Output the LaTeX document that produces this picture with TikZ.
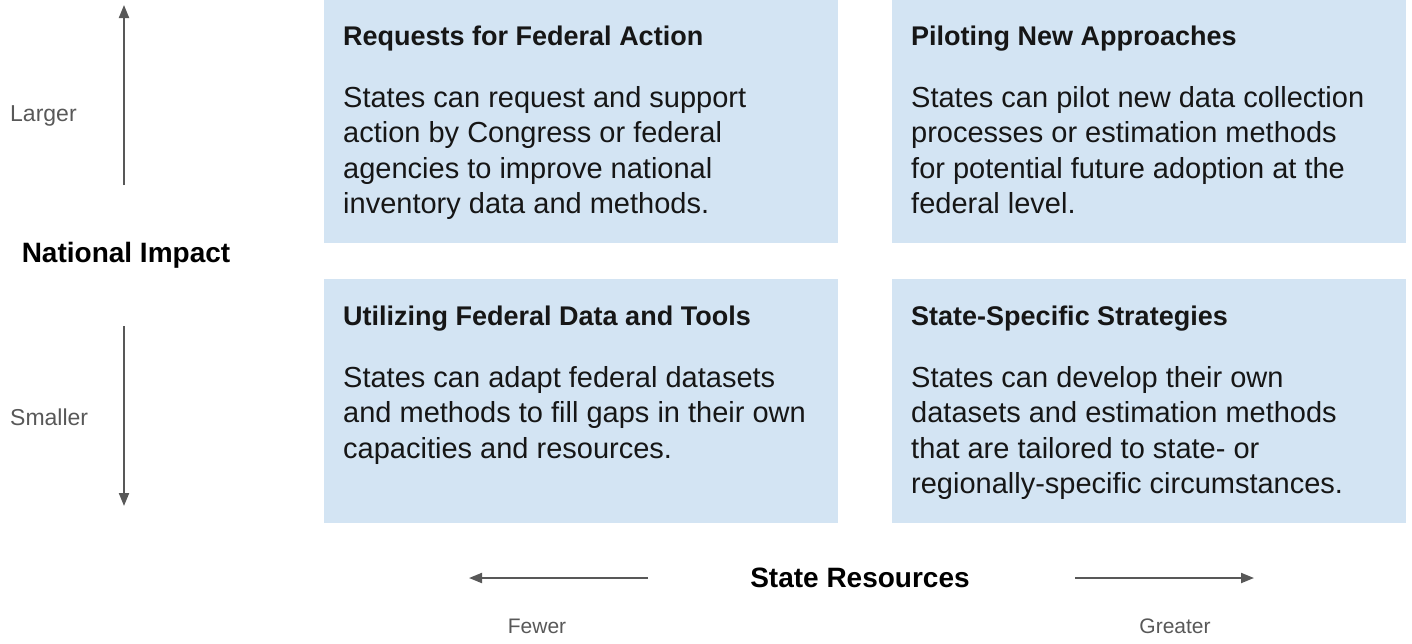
\documentclass[tikz,border=0pt]{standalone}
\usepackage{fontspec}
\setmainfont{Liberation Sans}
\usepackage{xcolor}
\usepackage{tikz}
\usetikzlibrary{arrows.meta,positioning,calc}
\definecolor{ink}{HTML}{161616}
\definecolor{axisgray}{HTML}{585858}
\definecolor{paleblue}{HTML}{D3E4F3}
\tikzset{
  quad/.style={rectangle, fill=paleblue, draw=none, anchor=north west, minimum width=514pt, minimum height=243pt, inner sep=0pt},
  quadtitle/.style={anchor=base west, inner sep=0pt, text=ink, font=\fontsize{27}{32}\selectfont\bfseries},
  quadbody/.style={anchor=north west, inner sep=0pt, text=ink, align=left, font=\fontsize{29}{35.5}\selectfont},
  axislabel/.style={inner sep=0pt, text=axisgray, font=\fontsize{21}{25}\selectfont},
  axistitle/.style={inner sep=0pt, text=black, font=\fontsize{28}{33}\selectfont\bfseries},
  axisarrow/.style={-{Triangle[length=13pt,width=10pt]}, draw=axisgray, line width=2pt}
}

\begin{document}
\begin{tikzpicture}[x=1pt, y=-1pt]
  \useasboundingbox (0,0) rectangle (1412,643);
  % quadrants
  \node[quad] (request) at (324,0) {};
  \node[quad] (pilot) at (892,0) {};
  \node[quad, minimum height=244pt] (utilize) at (324,279) {};
  \node[quad, minimum height=244pt] (specific) at (892,279) {};
  \node[quadtitle] (requestttl) at ($(request.north west)+(19,45)$) {Requests for Federal Action};
  \node[quadbody] (requesttxt) at ($(request.north west)+(19,86)$) {States can request and support\\action by Congress or federal\\agencies to improve national\\inventory data and methods.};
  \node[quadtitle] (pilotttl) at ($(pilot.north west)+(19,45)$) {Piloting New Approaches};
  \node[quadbody] (pilottxt) at ($(pilot.north west)+(19,86)$) {States can pilot new data collection\\processes or estimation methods\\for potential future adoption at the\\federal level.};
  \node[quadtitle] (utilizettl) at ($(utilize.north west)+(19,46)$) {Utilizing Federal Data and Tools};
  \node[quadbody] (utilizetxt) at ($(utilize.north west)+(19,87)$) {States can adapt federal datasets\\and methods to fill gaps in their own\\capacities and resources.};
  \node[quadtitle] (specificttl) at ($(specific.north west)+(19,46)$) {State-Specific Strategies};
  \node[quadbody] (specifictxt) at ($(specific.north west)+(19,87)$) {States can develop their own\\datasets and estimation methods\\that are tailored to state- or\\regionally-specific circumstances.};
  % vertical axis
  \node[axistitle] (impact) at (126,255) {National Impact};
  \node[axislabel, anchor=west, font=\fontsize{23}{27}\selectfont] (larger) at (10,116) {Larger};
  \node[axislabel, anchor=west, font=\fontsize{23}{27}\selectfont] (smaller) at (10,417) {Smaller};
  \coordinate (uptail) at (124,185);
  \coordinate (uphead) at (124,5);
  \coordinate (downtail) at (124,326);
  \coordinate (downhead) at (124,506);
  \draw[axisarrow] (uptail) -- (uphead);
  \draw[axisarrow] (downtail) -- (downhead);
  % horizontal axis
  \node[axistitle] (resources) at (860,578) {State Resources};
  \node[axislabel] (fewer) at (537,626) {Fewer};
  \node[axislabel] (greater) at (1175,626) {Greater};
  \coordinate (lefttail) at (648,578);
  \coordinate (lefthead) at (469,578);
  \coordinate (righttail) at (1075,578);
  \coordinate (righthead) at (1254,578);
  \draw[axisarrow] (lefttail) -- (lefthead);
  \draw[axisarrow] (righttail) -- (righthead);
\end{tikzpicture}
\end{document}
